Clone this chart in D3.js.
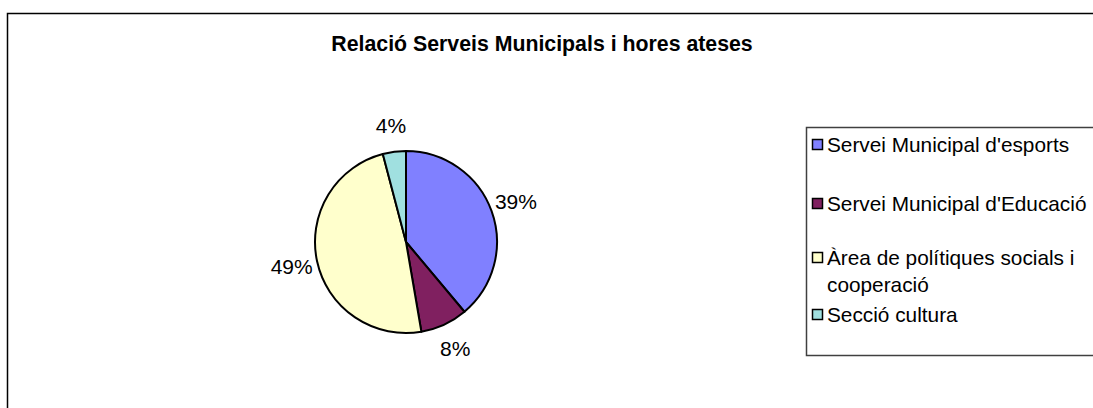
<!DOCTYPE html>
<html>
<head>
<meta charset="utf-8">
<script src="https://cdn.jsdelivr.net/npm/d3@7"></script>
<style>
  html, body { margin: 0; padding: 0; background: #fff; }
  svg { display: block; font-family: "Liberation Sans", Arial, sans-serif; }
</style>
</head>
<body>
<svg id="chart" width="1093" height="408"></svg>
<script>
const title = "Relació Serveis Municipals i hores ateses";
const categories = ["Servei Municipal d'esports", "Servei Municipal d'Educació", "Àrea de polítiques socials i cooperació", "Secció cultura"];
const legendLines = [["Servei Municipal d'esports"], ["Servei Municipal d'Educació"], ["Àrea de polítiques socials i", "cooperació"], ["Secció cultura"]];
const values = [38.9, 8.4, 48.6, 4.1];
const percentLabels = ["39%", "8%", "49%", "4%"];
const colors = ["#8080FF", "#802060", "#FFFFCC", "#A0E0E0"];

const svg = d3.select("#chart");

// outer chart border
svg.append("rect")
  .attr("x", 7.5).attr("y", 13.5)
  .attr("width", 1200).attr("height", 500)
  .attr("fill", "#fff").attr("stroke", "#000").attr("stroke-width", 1.5);

// title
svg.append("text")
  .attr("x", 542).attr("y", 51)
  .attr("text-anchor", "middle")
  .attr("font-size", 21.3).attr("font-weight", "bold")
  .text(title);

// pie
const cx = 406, cy = 242, r = 91;
const pie = d3.pie().sort(null).value(d => d)(values);
const arc = d3.arc().innerRadius(0).outerRadius(r);
const labelArc = d3.arc().innerRadius(117).outerRadius(117);
const g = svg.append("g").attr("transform", `translate(${cx},${cy})`);
g.selectAll("path").data(pie).join("path")
  .attr("d", arc)
  .attr("fill", (d, i) => colors[i])
  .attr("stroke", "#000").attr("stroke-width", 2)
  .attr("stroke-linejoin", "round");

g.selectAll("text.lbl").data(pie).join("text")
  .attr("class", "lbl")
  .attr("transform", d => `translate(${labelArc.centroid(d)})`)
  .attr("text-anchor", "middle")
  .attr("dy", "0.35em")
  .attr("font-size", 21)
  .text((d, i) => percentLabels[i]);

// legend
svg.append("rect")
  .attr("x", 806.5).attr("y", 127.5)
  .attr("width", 400).attr("height", 228)
  .attr("fill", "#fff").attr("stroke", "#404040").attr("stroke-width", 1.5);

const legendY = [145, 204, 258, 315];
const lg = svg.append("g");
categories.forEach((c, i) => {
  lg.append("rect")
    .attr("x", 812.5).attr("y", legendY[i] - 5.5)
    .attr("width", 10).attr("height", 10)
    .attr("fill", colors[i]).attr("stroke", "#000").attr("stroke-width", 1.5);
  const t = lg.append("text")
    .attr("x", 827).attr("y", legendY[i])
    .attr("font-size", 20.8);
  legendLines[i].forEach((line, j) => {
    t.append("tspan").attr("x", 827).attr("dy", j === 0 ? "0.35em" : 27).text(line);
  });
});
</script>
</body>
</html>
